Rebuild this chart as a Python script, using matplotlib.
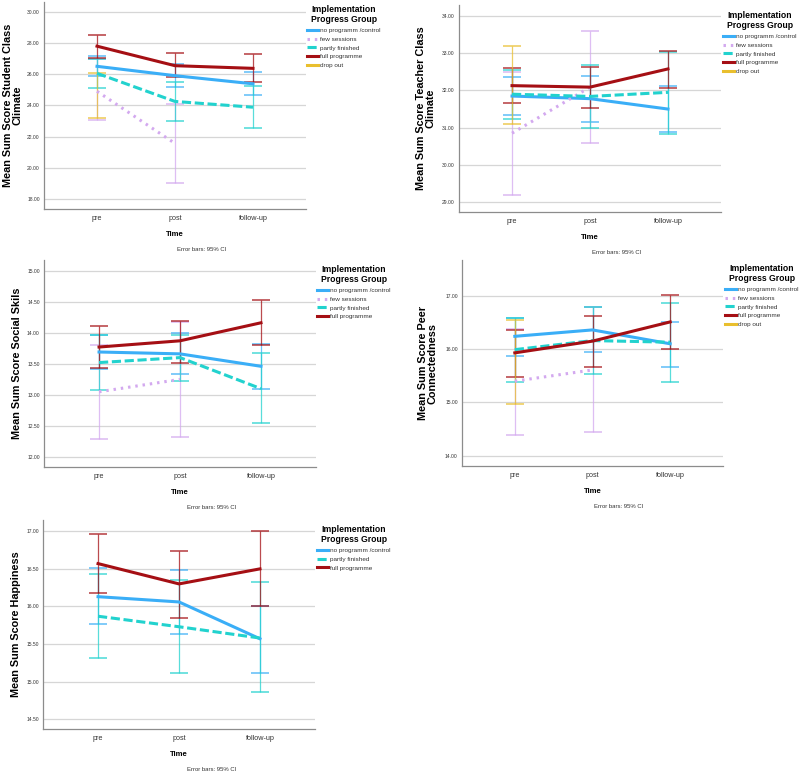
import numpy as np
import matplotlib
matplotlib.use('Agg')
import matplotlib.pyplot as plt
from matplotlib.lines import Line2D

plt.rcParams['font.family'] = ['Liberation Sans', 'DejaVu Sans']

nan = np.nan
times = ['pre', 'post', 'follow-up']
groups = ['no programm /control', 'few sessions', 'partly finished',
          'full programme', 'drop out']

# rows follow the order of groups
student_mean = [[26.50, 25.90, 25.38], [24.90, 21.56, nan], [26.05, 24.25, 23.88],
                [27.79, 26.54, 26.37], [24.64, nan, nan]]
student_low = [[25.90, 25.19, 24.66], [23.09, 19.00, nan], [25.08, 23.00, 22.54],
               [27.04, 25.79, 25.51], [23.19, nan, nan]]
student_high = [[27.15, 26.62, 26.11], [26.95, 24.06, nan], [26.95, 25.50, 25.24],
                [28.49, 27.37, 27.26], [26.08, nan, nan]]

teacher_mean = [[31.85, 31.78, 31.50], [30.85, 32.09, nan], [31.90, 31.84, 31.95],
                [32.13, 32.09, 32.58], [32.15, nan, nan]]
teacher_low = [[31.35, 31.16, 30.87], [29.20, 30.58, nan], [31.22, 30.99, 30.83],
               [31.65, 31.54, 32.07], [31.09, nan, nan]]
teacher_high = [[32.37, 32.40, 32.12], [32.49, 33.61, nan], [32.56, 32.69, 33.04],
                [32.60, 32.64, 33.07], [33.21, nan, nan]]

social_mean = [[13.69, 13.66, 13.46], [13.05, 13.25, nan], [13.52, 13.60, 13.10],
               [13.77, 13.87, 14.16]]
social_low = [[13.41, 13.34, 13.10], [12.29, 12.32, nan], [13.08, 13.22, 12.54],
              [13.44, 13.52, 13.80]]
social_high = [[13.97, 13.99, 13.82], [13.81, 14.18, nan], [13.96, 13.96, 13.68],
               [14.11, 14.19, 14.52]]

peer_mean = [[16.24, 16.36, 16.10], [15.40, 15.61, nan], [15.99, 16.16, 16.13],
             [15.93, 16.15, 16.51], [15.76, nan, nan]]
peer_low = [[15.88, 15.95, 15.67], [14.39, 14.45, nan], [15.39, 15.53, 15.39],
            [15.47, 15.67, 16.01], [14.97, nan, nan]]
peer_high = [[16.58, 16.78, 16.51], [16.37, 16.78, nan], [16.58, 16.78, 16.86],
             [16.35, 16.62, 17.02], [16.54, nan, nan]]

happy_groups = ['no programm /control', 'partly finished', 'full programme']
happy_mean = [[16.13, 16.06, 15.57], [15.87, 15.73, 15.58], [16.57, 16.30, 16.50]]
happy_low = [[15.76, 15.63, 15.12], [15.31, 15.11, 14.86], [16.18, 15.85, 16.00]]
happy_high = [[16.51, 16.49, 16.00], [16.43, 16.35, 16.32], [16.96, 16.74, 17.00]]

styles = {
    'no programm /control': ('#3AAEF7', '-'),
    'few sessions': ('#D3A9EF', (0, (0.8, 1.6))),
    'partly finished': ('#22D2CE', (0, (3, 1.2))),
    'full programme': ('#A50F14', '-'),
    'drop out': ('#E9BF2E', '-'),
}

W, H = 800, 774
fig = plt.figure(figsize=(W / 100, H / 100), dpi=100)


def px_axes(left, top, right, bottom):
    return fig.add_axes([left / W, 1 - bottom / H, (right - left) / W, (bottom - top) / H])


def draw_panel(box, grp, means, lows, highs, ylim, yticks, ylabel, ylab_x,
               leg_xy, note_x):
    ax = px_axes(*box)
    x = np.arange(len(times))
    handles = []
    for name, m, lo, hi in zip(grp, means, lows, highs):
        color, ls = styles[name]
        m, lo, hi = np.array(m), np.array(lo), np.array(hi)
        ax.errorbar(x, m, yerr=[m - lo, hi - m], fmt='none', ecolor=color,
                    elinewidth=0.9, capsize=6.5, capthick=1.2, alpha=0.75, zorder=3)
        ax.plot(x, m, color=color, ls=ls, lw=2.2, zorder=4)
        handles.append(Line2D([], [], color=color, ls=ls, lw=2.2))

    ax.set_xlim(-0.68, 2.68)
    ax.set_ylim(*ylim)
    ax.set_yticks(yticks)
    ax.set_yticklabels([f'{t:.2f}' for t in yticks], fontsize=3.6, color='#333333')
    ax.set_xticks(x)
    ax.set_xticklabels(times, fontsize=5.2, color='#333333')
    ax.tick_params(length=0, pad=3)
    ax.tick_params(axis='x', pad=4)
    ax.grid(axis='y', color='#D6D6D6', lw=0.9)
    ax.set_axisbelow(True)
    for s in ['top', 'right']:
        ax.spines[s].set_visible(False)
    for s in ['left', 'bottom']:
        ax.spines[s].set_color('#8C8C8C')
        ax.spines[s].set_linewidth(0.9)

    ax.text(ylab_x, 0.5, ylabel, transform=ax.transAxes, rotation=90,
            ha='center', va='center', fontsize=7.8, fontweight='bold',
            multialignment='center', linespacing=0.95)
    ax.annotate('Time', xy=(0.5, 0), xycoords='axes fraction', xytext=(0, -18.5),
                textcoords='offset points', ha='center', va='center',
                fontsize=5.6, fontweight='bold')
    bottom_px = box[3]
    fig.text(note_x / W, 1 - (bottom_px + 40.5) / H, 'Error bars: 95% CI',
             ha='center', va='center', fontsize=4.3, color='#333333')

    leg = ax.legend(handles, grp, loc='upper left',
                    bbox_to_anchor=(leg_xy[0] / W, 1 - leg_xy[1] / H),
                    bbox_transform=fig.transFigure, frameon=False, fontsize=4.6,
                    title='Implementation\nProgress Group',
                    title_fontproperties={'weight': 'bold', 'size': 6.2},
                    handlelength=1.75, handletextpad=0.35, labelspacing=0.5,
                    borderpad=0, borderaxespad=0)
    for t in leg.get_texts():
        t.set_color('#333333')
    leg._legend_box.sep = 2.5
    return ax


draw_panel((44, 2, 306, 209), groups, student_mean, student_low, student_high,
           (17.36, 30.62), np.arange(18, 30.1, 2),
           'Mean Sum Score Student Class\nClimate', -0.118, (307, 5), 202)
draw_panel((459, 5, 721, 212), groups, teacher_mean, teacher_low, teacher_high,
           (28.73, 34.3), np.arange(29, 34.1, 1),
           'Mean Sum Score Teacher Class\nClimate', -0.127, (723, 11), 617)
draw_panel((44, 260, 316, 467), groups[:4], social_mean, social_low, social_high,
           (11.84, 15.17), np.arange(12, 15.01, 0.5),
           'Mean Sum Score Social Skils', -0.099, (317, 265), 212)
draw_panel((462, 260, 723, 466), groups, peer_mean, peer_low, peer_high,
           (13.81, 17.67), np.arange(14, 17.1, 1),
           'Mean Sum Score Peer\nConnectedness', -0.131, (725, 264), 619)
draw_panel((43, 520, 315, 729), happy_groups, happy_mean, happy_low, happy_high,
           (14.37, 17.15), np.arange(14.5, 17.01, 0.5),
           'Mean Sum Score Happiness', -0.10, (317, 525), 212)

fig.savefig('out.png', dpi=100)
